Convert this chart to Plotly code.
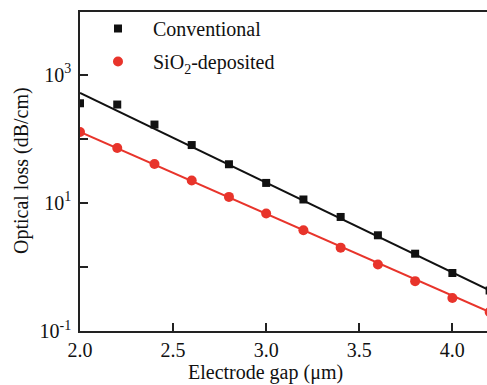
import plotly.graph_objects as go

# Data
gap = [2.0, 2.2, 2.4, 2.6, 2.8, 3.0, 3.2, 3.4, 3.6, 3.8, 4.0, 4.2]
conventional = [359, 343, 167, 80, 40.1, 20.5, 11.3, 6.03, 3.12, 1.61, 0.805, 0.43]
sio2_deposited = [128, 72, 40.5, 22.3, 12.4, 6.81, 3.73, 2.0, 1.09, 0.60, 0.327, 0.198]

fit_gap = [2.0, 4.2]
conventional_fit = [520, 0.43]
sio2_fit = [128, 0.198]

ytick_vals = [0.1, 10, 1000]
ytick_text = ["10<sup>-1</sup>", "10<sup>1</sup>", "10<sup>3</sup>"]
yminor_vals = [1, 100]
xtick_vals = [2.0, 2.5, 3.0, 3.5, 4.0]

BLACK = "#111111"
RED = "#e8342b"
AXIS = "#222222"
FONT = "Liberation Serif"

W, H = 487, 385
L, R, T, B = 80, 0, 12, 54
PW, PH = W - L - R, H - T - B

def px_x(x):
    return (x - L) / PW

def px_y(y):
    return (H - B - y) / PH

fig = go.Figure()
fig.add_trace(go.Scatter(x=fit_gap, y=conventional_fit, mode="lines",
                         line=dict(color=BLACK, width=2), showlegend=False, hoverinfo="skip"))
fig.add_trace(go.Scatter(x=fit_gap, y=sio2_fit, mode="lines",
                         line=dict(color=RED, width=2), showlegend=False, hoverinfo="skip"))
fig.add_trace(go.Scatter(x=gap, y=conventional, mode="markers", name="Conventional",
                         legendgroup="a",
                         marker=dict(symbol="square", size=8, color=BLACK)))
fig.add_trace(go.Scatter(x=gap, y=sio2_deposited, mode="markers", name="SiO<sub>2</sub>-deposited",
                         legendgroup="b",
                         marker=dict(symbol="circle", size=10, color=RED)))

fig.update_layout(
    width=W, height=H,
    margin=dict(l=L, r=R, t=T, b=B, autoexpand=False),
    paper_bgcolor="white", plot_bgcolor="white",
    font=dict(family=FONT, size=20, color="#111111"),
    legend=dict(x=px_x(83), y=px_y(9), xanchor="left", yanchor="top",
                bgcolor="rgba(255,255,255,0)", font=dict(size=20, family=FONT),
                itemwidth=60, traceorder="grouped", tracegroupgap=4),
    annotations=[
        dict(text="Electrode gap (μm)", x=px_x(265), y=px_y(372), xref="paper", yref="paper",
             xanchor="center", yanchor="middle",
             showarrow=False, font=dict(size=20, family=FONT)),
        dict(text="Optical loss (dB/cm)", x=px_x(21), y=px_y(171), xref="paper", yref="paper",
             xanchor="center", yanchor="middle", textangle=-90,
             showarrow=False, font=dict(size=20, family=FONT)),
    ],
)

fig.update_xaxes(range=[2.0, 4.186], tickvals=xtick_vals, tickformat=".1f", automargin=False,
                 showline=True, linecolor=AXIS, linewidth=1.5, mirror=True,
                 ticks="inside", ticklen=8, tickwidth=1.5, tickcolor=AXIS,
                 showgrid=False, zeroline=False, tickfont=dict(size=20, family=FONT))
fig.update_yaxes(type="log", range=[-1, 3.98], tickvals=ytick_vals, ticktext=ytick_text,
                 automargin=False, ticklabelstandoff=3,
                 minor=dict(tickvals=yminor_vals, ticks="inside", ticklen=8, tickwidth=1.5,
                            tickcolor=AXIS, showgrid=False),
                 showline=True, linecolor=AXIS, linewidth=1.5,
                 ticks="inside", ticklen=8, tickwidth=1.5, tickcolor=AXIS,
                 showgrid=False, zeroline=False, tickfont=dict(size=20, family=FONT))

fig.write_html("out.html", config={"displayModeBar": False},
               post_script="document.body.style.margin='0';")
